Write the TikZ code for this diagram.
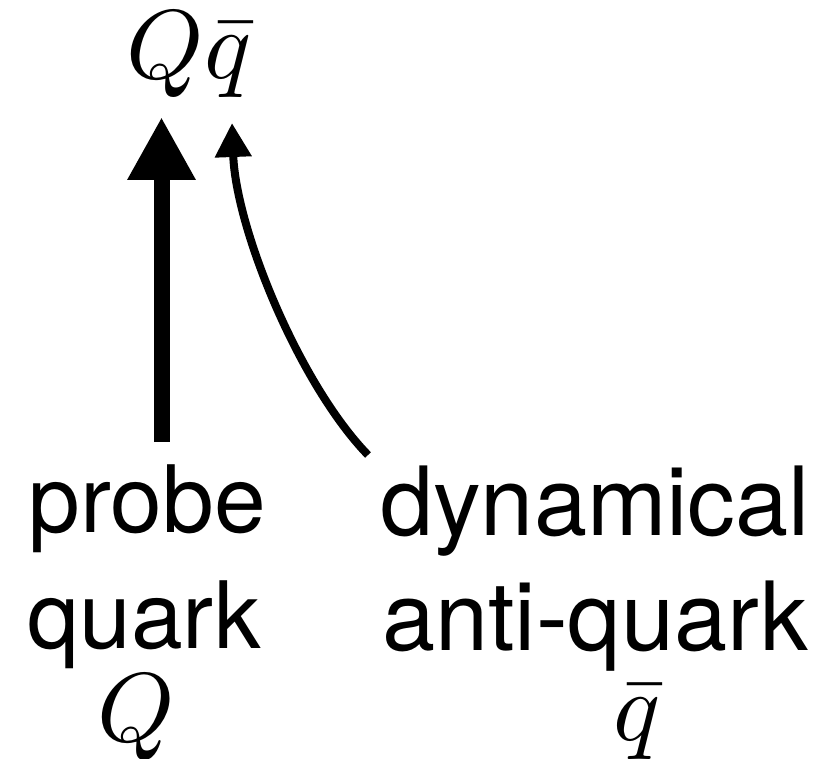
\documentclass[tikz,border=0pt]{standalone}
\usepackage{fontspec}
\setmainfont{TeX Gyre Heros}
\usetikzlibrary{arrows.meta}
\newcommand{\bigmath}[1]{\scalebox{9.8}{$#1$}}
\begin{document}
\begin{tikzpicture}[x=1pt,y=-1pt,
  lbl/.style={font=\fontsize{93}{110}\selectfont, inner sep=0pt, anchor=base},
  lblr/.style={font=\fontsize{95.5}{110}\selectfont, inner sep=0pt, anchor=base},
  mth/.style={font=\fontsize{10}{12}\selectfont, inner sep=0pt, anchor=base},
  thickarrow/.style={line width=16pt, -{Triangle[width=64pt,length=63pt]}},
  thinarrow/.style={line width=8pt, -{Triangle[width=35pt,length=34pt]}}]
\useasboundingbox (0,0) rectangle (832,759);
\node[mth] (top) at (189,79) {\bigmath{Q\bar q}};
\node[lbl] (probe) at (147,532) {probe};
\node[lbl] (quark) at (144,648) {quark};
\node[mth] (Qb) at (136,741) {\bigmath{Q}};
\node[lblr] (dyn) at (595,535) {dynamical};
\node[lblr] (anti) at (595,650) {anti-quark};
\node[mth] (qb) at (637,740) {\bigmath{\bar q}};
\coordinate (ps) at (161.5,442);
\coordinate (pe) at (161.5,117);
\coordinate (as) at (368,455);
\coordinate (ae) at (232,123);
\draw[thickarrow] (ps) -- (pe);
\draw[thinarrow] (as) .. controls (300,385) and (236,230) .. (ae);
\end{tikzpicture}
\end{document}
